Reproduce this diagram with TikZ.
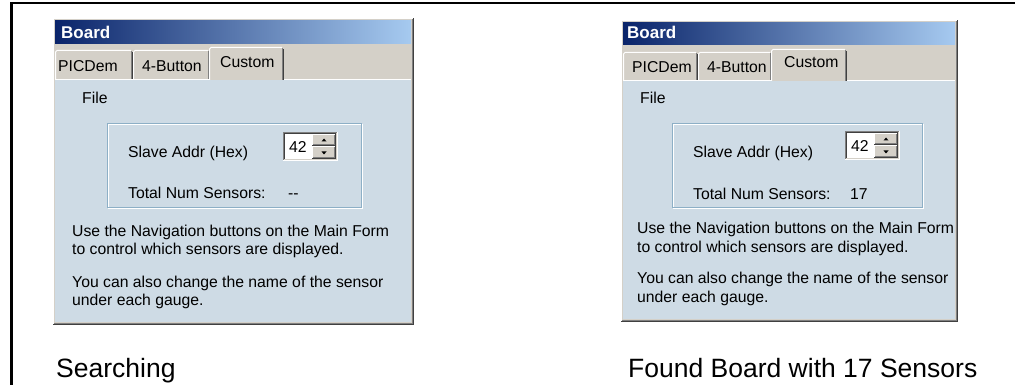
\documentclass[tikz,border=0pt]{standalone}
\usepackage{fontspec}
\setmainfont{Liberation Sans}
\definecolor{panel}{HTML}{CEDBE5}
\definecolor{winbg}{HTML}{D4D0C8}
\definecolor{tbdark}{HTML}{0A246A}
\definecolor{tblight}{HTML}{A6CAF0}
\definecolor{grpline}{HTML}{8DAFC6}
\definecolor{shadowc}{HTML}{808080}
\definecolor{dkshadow}{HTML}{404040}
\tikzset{
  ui/.style={font=\fontsize{15.75}{19}\selectfont, inner sep=0pt, anchor=base west},
  captxt/.style={font=\fontsize{26.5}{30}\selectfont, inner sep=0pt, anchor=base west},
  ttl/.style={font=\bfseries\fontsize{17}{20}\selectfont, text=white, inner sep=0pt, anchor=base west},
  px/.style={line width=1pt},
}
% window frame: x0 y0 x1 y1
\newcommand\winframe[4]{%
  \fill[winbg] (#1,#2) rectangle (#3,#4);
  \draw[px,white] ({#1+0.5},{#4-1}) -- ({#1+0.5},{#2+0.5}) -- ({#3-1},{#2+0.5});
  \draw[px,dkshadow] (#1,{#4-0.5}) -- ({#3-0.5},{#4-0.5}) -- ({#3-0.5},#2);
  \draw[px,shadowc] ({#1+1},{#4-1.5}) -- ({#3-1.5},{#4-1.5}) -- ({#3-1.5},{#2+1});
}
% tab: x0 ytop x1 ybottom
\newcommand\wintab[4]{%
  \fill[winbg] (#1,#2) rectangle (#3,#4);
  \draw[px,white] ({#1+0.5},#4) -- ({#1+0.5},{#2+2}) -- ({#1+2},{#2+0.5}) -- ({#3-2},{#2+0.5});
  \draw[px,dkshadow] ({#3-0.5},{#2+2}) -- ({#3-0.5},#4);
  \draw[px,shadowc] ({#3-1.5},{#2+1}) -- ({#3-1.5},#4);
}
% group box: x0 y0 x1 y1
\newcommand\grpbox[4]{%
  \draw[px,white] ({#1+1.5},{#2+1.5}) rectangle ({#3+0.5},{#4+0.5});
  \draw[px,grpline] ({#1+0.5},{#2+0.5}) rectangle ({#3-0.5},{#4-0.5});
}
% spin box: x0 y0 x1 y1
\newcommand\spinbox[4]{%
  \fill[white] (#1,#2) rectangle (#3,#4);
  \draw[px,shadowc] ({#1+0.5},{#4-1}) -- ({#1+0.5},{#2+0.5}) -- ({#3-1},{#2+0.5});
  \draw[px,dkshadow] ({#1+1.5},{#4-2}) -- ({#1+1.5},{#2+1.5}) -- ({#3-2},{#2+1.5});
  \draw[px,winbg] ({#1+1},{#4-1.5}) -- ({#3-1.5},{#4-1.5}) -- ({#3-1.5},{#2+1});
  % up button
  \fill[winbg] ({#3-26},{#2+2}) rectangle ({#3-2},{(#2+#4)/2});
  \draw[px,white] ({#3-25.5},{(#2+#4)/2-1}) -- ({#3-25.5},{#2+2.5}) -- ({#3-3},{#2+2.5});
  \draw[px,dkshadow] ({#3-26},{(#2+#4)/2-0.5}) -- ({#3-2.5},{(#2+#4)/2-0.5}) -- ({#3-2.5},{#2+2});
  \draw[px,shadowc] ({#3-25},{(#2+#4)/2-1.5}) -- ({#3-3.5},{(#2+#4)/2-1.5}) -- ({#3-3.5},{#2+3});
  \fill[black] ({#3-16.5},{(#2+#4)/2-5}) -- ({#3-11.5},{(#2+#4)/2-5}) -- ({#3-14},{(#2+#4)/2-8}) -- cycle;
  % down button
  \fill[winbg] ({#3-26},{(#2+#4)/2}) rectangle ({#3-2},{#4-2});
  \draw[px,white] ({#3-25.5},{#4-3}) -- ({#3-25.5},{(#2+#4)/2+0.5}) -- ({#3-3},{(#2+#4)/2+0.5});
  \draw[px,dkshadow] ({#3-26},{#4-2.5}) -- ({#3-2.5},{#4-2.5}) -- ({#3-2.5},{(#2+#4)/2});
  \draw[px,shadowc] ({#3-25},{#4-3.5}) -- ({#3-3.5},{#4-3.5}) -- ({#3-3.5},{(#2+#4)/2+1});
  \fill[black] ({#3-16.5},{(#2+#4)/2+5}) -- ({#3-11.5},{(#2+#4)/2+5}) -- ({#3-14},{(#2+#4)/2+8}) -- cycle;
}
\begin{document}
\begin{tikzpicture}[x=1pt,y=-1pt]
\useasboundingbox (0,0) rectangle (1015,385);
% outer frame (top and left)
\draw[line width=2.5pt] (11.3,385) -- (11.3,2.8) -- (1015,2.8);

% ---------------- left window ----------------
\winframe{53}{18}{414}{325}
\shade[left color=tbdark,right color=tblight] (55,21) rectangle (411,44);
\fill[panel] (55,79) rectangle (411,322);
\draw[px,white] (55,79.5) -- (411,79.5);
\wintab{55}{50}{133}{79}
\wintab{133}{50}{210}{79}
\wintab{209}{47}{284}{80}
\grpbox{107}{123}{362}{208}
\spinbox{283}{132}{338}{161}
\node[ttl] (lboard) at (61,39) {Board};
\node[ui] (lt1) at (58,72) {PICDem};
\node[ui] (lt2) at (142,72) {4-Button};
\node[ui] (lt3) at (220,68) {Custom};
\node[ui] (lfile) at (82,104) {File};
\node[ui] (lslave) at (128,158) {Slave Addr (Hex)};
\node[ui] (lval) at (289,153) {42};
\node[ui] (ltotal) at (128,198) {Total Num Sensors:};
\node[ui] (lnum) at (288,198) {-{}-};
\node[ui] (lp1) at (72,236) {Use the Navigation buttons on the Main Form};
\node[ui] (lp2) at (72,254) {to control which sensors are displayed.};
\node[ui] (lp3) at (72,287) {You can also change the name of the sensor};
\node[ui] (lp4) at (72,305) {under each gauge.};
\node[captxt] (lcap) at (56,377) {Searching};

% ---------------- right window ----------------
\winframe{621}{20}{958}{322}
\shade[left color=tbdark,right color=tblight] (623,23) rectangle (955,45);
\fill[panel] (623,80) rectangle (955,319);
\draw[px,white] (623,80.5) -- (955,80.5);
\wintab{623}{52}{698}{80}
\wintab{698}{52}{772}{80}
\wintab{771}{49}{847}{81}
\grpbox{672}{123}{923}{208}
\spinbox{845}{131}{900}{160}
\node[ttl] (rboard) at (627,39) {Board};
\node[ui] (rt1) at (632,73) {PICDem};
\node[ui] (rt2) at (707,73) {4-Button};
\node[ui] (rt3) at (784,68) {Custom};
\node[ui] (rfile) at (640,104) {File};
\node[ui] (rslave) at (693,158) {Slave Addr (Hex)};
\node[ui] (rval) at (851,152) {42};
\node[ui] (rtotal) at (693,199) {Total Num Sensors:};
\node[ui] (rnum) at (850,199) {17};
\node[ui] (rp1) at (637,233) {Use the Navigation buttons on the Main Form};
\node[ui] (rp2) at (637,252) {to control which sensors are displayed.};
\node[ui] (rp3) at (637,283) {You can also change the name of the sensor};
\node[ui] (rp4) at (637,302) {under each gauge.};
\node[captxt] (rcap) at (628,377) {Found Board with 17 Sensors};
\end{tikzpicture}
\end{document}
